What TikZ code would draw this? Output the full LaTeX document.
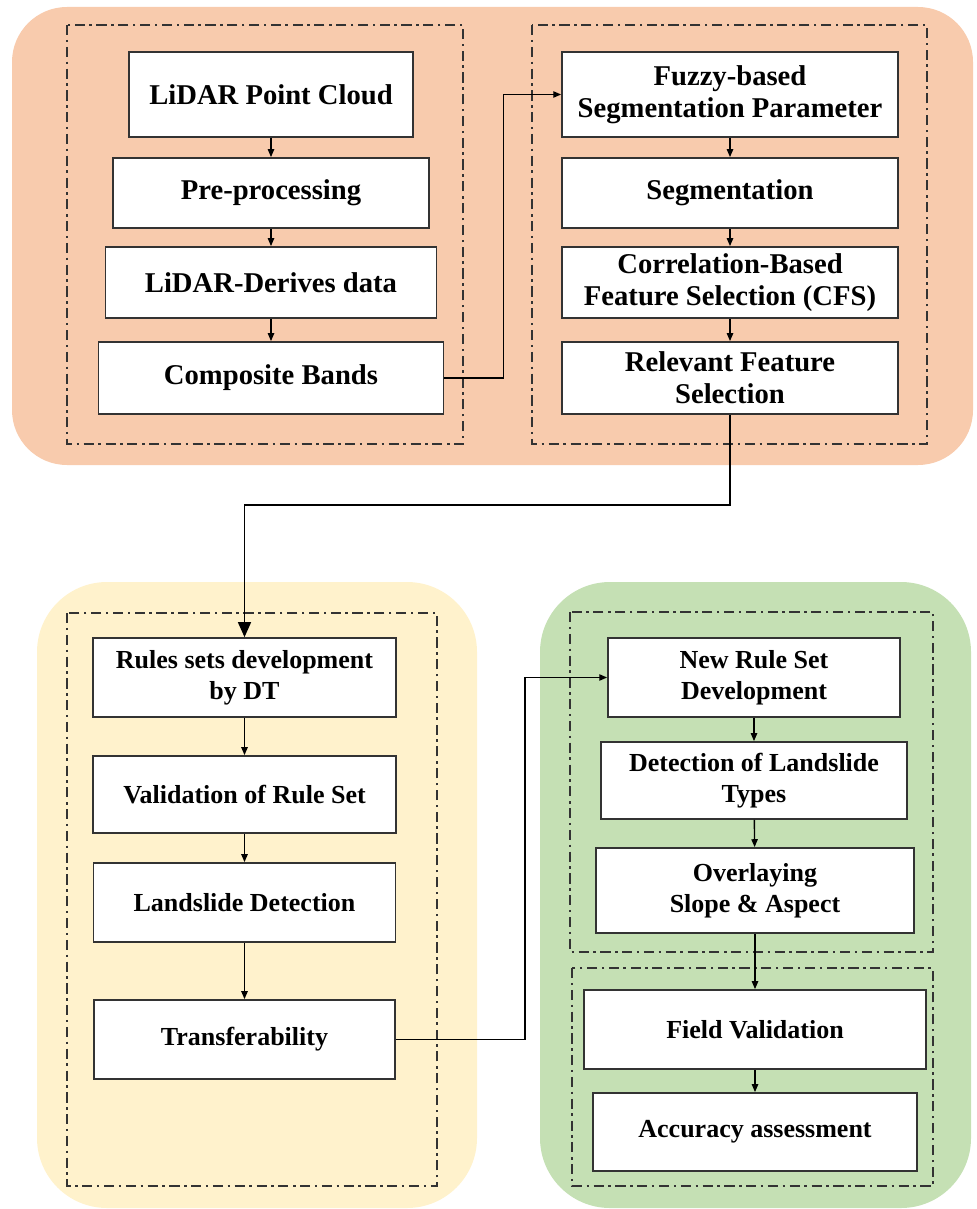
\documentclass[tikz,border=0pt]{standalone}
\usepackage{fontspec}
\setmainfont{Liberation Serif}
\usetikzlibrary{arrows.meta}
\tikzset{every picture/.style={line width=0.8pt}}

\definecolor{salmon}{HTML}{F8CBAD}
\definecolor{cream}{HTML}{FFF2CC}
\definecolor{sage}{HTML}{C5E0B4}
\definecolor{frame}{HTML}{333333}

\begin{document}
\begin{tikzpicture}[x=0.02cm, y=-0.02cm, >={Triangle[length=4.5pt, width=3.6pt]},
        every node/.style={font=\fontsize{16.3}{18.2}\selectfont\bfseries},
        stagebox/.style={draw=frame, line width=1pt, fill=white, inner sep=0pt, align=center},
        lowstage/.style={stagebox, font=\fontsize{14.8}{17.6}\selectfont\bfseries},
        group/.style={draw=frame, line width=1.1pt, dash pattern=on 5.8pt off 2.6pt on 1.4pt off 2.6pt}]
        \useasboundingbox (0, 0) rectangle (976, 1209);
        \fill[salmon, rounded corners=1.1cm] (12, 7) rectangle (973, 465);
        \fill[cream, rounded corners=1.4cm] (37, 582) rectangle (477, 1208);
        \fill[sage, rounded corners=1.4cm] (540, 582) rectangle (971, 1208);
        \draw[group] (67, 25)   rectangle (463, 444);
        \draw[group] (532, 25)  rectangle (927, 444);
        \draw[group] (67, 613)  rectangle (437, 1186);
        \draw[group] (570, 612) rectangle (933, 952);
        \draw[group] (572, 968) rectangle (933, 1186);

        \node[stagebox, minimum width=5.68cm, minimum height=1.70cm] (pc)    at (271, 94.5)  {LiDAR Point Cloud};
        \node[stagebox, minimum width=6.32cm, minimum height=1.40cm] (pre)   at (271, 193)   {Pre-processing};
        \node[stagebox, minimum width=6.62cm, minimum height=1.42cm] (der)   at (271, 282.5) {LiDAR-Derives data};
        \node[stagebox, minimum width=6.90cm, minimum height=1.44cm] (comp)  at (271, 378)   {Composite Bands};
        \node[stagebox, minimum width=6.72cm, minimum height=1.70cm] (fuzzy) at (730, 94.5)  {Fuzzy-based\\Segmentation Parameter};
        \node[stagebox, minimum width=6.72cm, minimum height=1.40cm] (seg)   at (730, 193)   {Segmentation};
        \node[stagebox, minimum width=6.72cm, minimum height=1.42cm] (cfs)   at (730, 282.5) {Correlation-Based\\Feature Selection (CFS)};
        \node[stagebox, minimum width=6.72cm, minimum height=1.44cm] (rel)   at (730, 378)   {Relevant Feature\\Selection};

        \node[lowstage, minimum width=6.06cm, minimum height=1.58cm] (rules) at (244.5, 677.5)  {Rules sets development\\by DT};
        \node[lowstage, minimum width=6.06cm, minimum height=1.54cm] (valid) at (244.5, 794.5)  {Validation of Rule Set};
        \node[lowstage, minimum width=6.04cm, minimum height=1.58cm] (ldet)  at (244.5, 902.5)  {Landslide Detection};
        \node[lowstage, minimum width=6.02cm, minimum height=1.58cm] (trans) at (244.5, 1039.5) {Transferability};

        \node[lowstage, minimum width=5.84cm, minimum height=1.58cm] (newrule) at (754, 677.5)  {New Rule Set\\Development};
        \node[lowstage, minimum width=6.12cm, minimum height=1.54cm] (types)   at (754, 780.5)  {Detection of Landslide\\Types};
        \node[lowstage, minimum width=6.36cm, minimum height=1.70cm] (overlay) at (755, 890.5)  {Overlaying\\Slope \& Aspect};
        \node[lowstage, minimum width=6.84cm, minimum height=1.58cm] (field)   at (755, 1029.5) {Field Validation};
        \node[lowstage, minimum width=6.48cm, minimum height=1.56cm] (acc)     at (755, 1132)   {Accuracy assessment};

        \draw[->] (pc)    -- (pre);
        \draw[->] (pre)   -- (der);
        \draw[->] (der)   -- (comp);
        \draw[->] (comp.east) -- ++(59, 0) |- (fuzzy.west);
        \draw[->] (fuzzy) -- (seg);
        \draw[->] (seg)   -- (cfs);
        \draw[->] (cfs)   -- (rel);
        \draw[-{Triangle[length=8.5pt, width=7.4pt]}] (rel.south) -- ++(0, 90) -| (rules.north);
        \draw[->] (rules) -- (valid);
        \draw[->] (valid) -- (ldet);
        \draw[->] (ldet)  -- (trans);
        \draw[->] (trans.east) -- ++(129, 0) |- (newrule.west);
        \draw[->] (newrule) -- (types);
        \draw[->] (types)   -- (overlay);
        \draw[->] (overlay) -- (field);
        \draw[->] (field)   -- (acc);
\end{tikzpicture}
\end{document}
